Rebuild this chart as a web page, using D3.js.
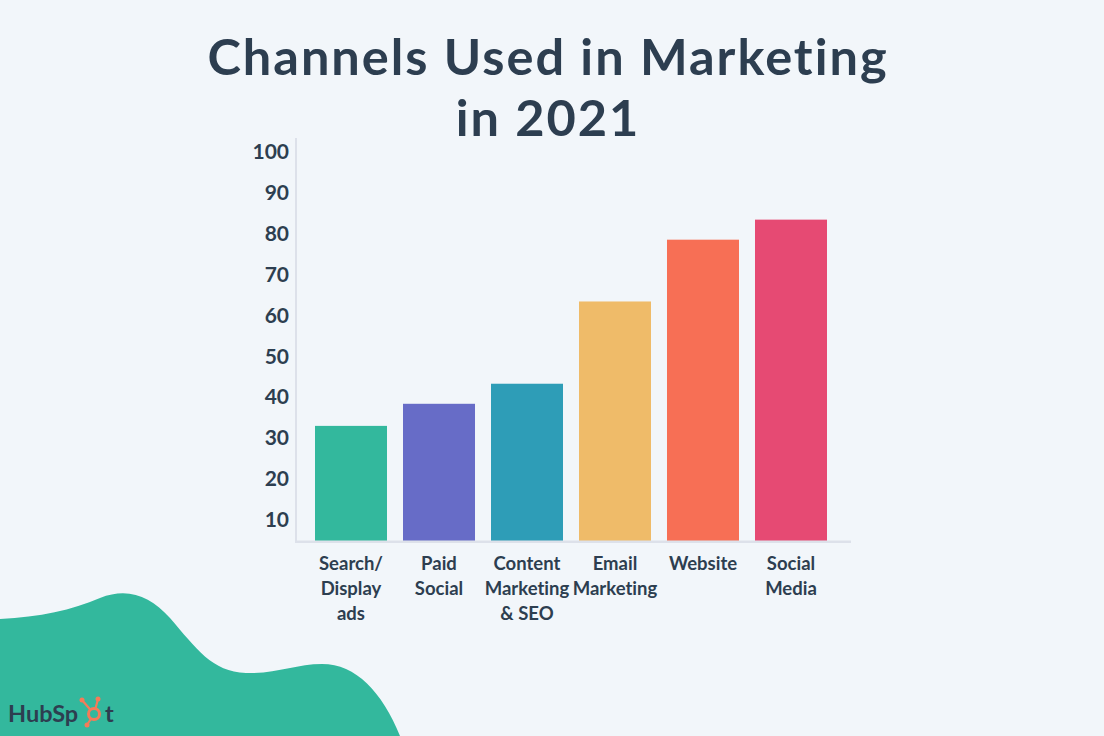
<!DOCTYPE html>
<html>
<head>
<meta charset="utf-8">
<script src="https://cdn.jsdelivr.net/npm/d3@7"></script>
<style>
  body { margin: 0; background: #f2f6fa; }
  svg { display: block; font-family: "Lato", "Open Sans", sans-serif; font-variant-ligatures: none; }
</style>
</head>
<body>
<div id="chart"></div>
<script>
const w = 1104;
const h = 736;
const ink = "#2d3e50";

// data
let categories = [
  ["Search/", "Display", "ads"],
  ["Paid", "Social"],
  ["Content", "Marketing", "& SEO"],
  ["Email", "Marketing"],
  ["Website"],
  ["Social", "Media"]
];
let values = [33, 38.4, 43.3, 63.4, 78.5, 83.4];
let colors = ["#33b89d", "#676cc7", "#2e9db7", "#efbb69", "#f76f55", "#e64a73"];
let yTicks = [10, 20, 30, 40, 50, 60, 70, 80, 90, 100];
let titleLines = ["Channels Used in Marketing", "in 2021"];

const svg = d3
  .select("#chart")
  .append("svg")
  .attr("width", w)
  .attr("height", h);

svg.append("rect").attr("width", w).attr("height", h).attr("fill", "#f2f6fa");

// green blob bottom left
svg
  .append("path")
  .attr("d", "M0,736 L0,619 C40,617 72,610 100,598 C128,587 150,596 170,618 C196,648 212,672 246,673 C276,674 296,664 322,664 C356,664 382,692 400,736 Z")
  .attr("fill", "#33b89d");

// title
svg
  .selectAll(".title")
  .data(titleLines)
  .enter()
  .append("text")
  .attr("class", "title")
  .attr("x", 548)
  .attr("y", (d, i) => 75 + i * 61)
  .attr("text-anchor", "middle")
  .attr("fill", ink)
  .style("font-size", "50.5px")
  .style("letter-spacing", "2px")
  .style("font-weight", 700)
  .text(d => d);

const x = d3
  .scaleBand()
  .domain(d3.range(values.length))
  .range([296, 846])
  .paddingInner(16 / 88)
  .paddingOuter(0.216);

const y = d3.scaleLinear().domain([4.7, 100]).range([541.7, 151.7]);

// bars
svg
  .selectAll(".bar")
  .data(values)
  .enter()
  .append("rect")
  .attr("class", "bar")
  .attr("x", (d, i) => x(i))
  .attr("y", d => y(d))
  .attr("width", x.bandwidth())
  .attr("height", d => y(4.7) - y(d))
  .attr("fill", (d, i) => colors[i]);

// axes lines
svg
  .append("line")
  .attr("x1", 296).attr("x2", 296)
  .attr("y1", 138).attr("y2", y(4.7))
  .attr("stroke", "#dde1ea").attr("stroke-width", 2);
svg
  .append("line")
  .attr("x1", 295).attr("x2", 851)
  .attr("y1", y(4.7)).attr("y2", y(4.7))
  .attr("stroke", "#dde1ea").attr("stroke-width", 2.5);

// y axis labels
const yAxis = svg
  .append("g")
  .attr("transform", "translate(296,0)")
  .call(d3.axisLeft(y).tickValues(yTicks).tickSize(0).tickPadding(7));
yAxis.select(".domain").remove();
yAxis
  .selectAll("text")
  .attr("fill", ink)
  .style("font-family", "Lato, sans-serif")
  .style("font-size", "21px")
  .style("font-weight", 700);

// x labels (multi-line)
const xl = svg
  .selectAll(".xlab")
  .data(categories)
  .enter()
  .append("text")
  .attr("class", "xlab")
  .attr("text-anchor", "middle")
  .attr("fill", ink)
  .style("font-size", "18.5px")
  .style("font-weight", 700);
xl.selectAll("tspan")
  .data((d, i) => d.map(t => ({ t: t, i: i })))
  .enter()
  .append("tspan")
  .attr("x", d => x(d.i) + x.bandwidth() / 2)
  .attr("y", (d, j) => 570 + j * 25)
  .text(d => d.t);

// HubSpot logo
const logo = svg.append("g").attr("transform", "translate(8,722)");
logo
  .append("text")
  .attr("x", 0)
  .attr("y", 0)
  .attr("fill", ink)
  .style("font-size", "23.5px")
  .style("font-weight", 700)
  .text("HubSp");
logo
  .append("text")
  .attr("x", 97)
  .attr("y", 0)
  .attr("fill", ink)
  .style("font-size", "23.5px")
  .style("font-weight", 700)
  .text("t");
const sp = logo.append("g").attr("transform", "translate(86,-8)").attr("stroke", "#f57b58").attr("fill", "#f57b58");
[[4, -15], [-12, -14], [-7, 11]].forEach(p => {
  sp.append("line").attr("x1", 0).attr("y1", 0).attr("x2", p[0]).attr("y2", p[1]).attr("stroke-width", 2.2);
  sp.append("circle").attr("cx", p[0]).attr("cy", p[1]).attr("r", 2.5).attr("stroke", "none");
});
sp.append("circle").attr("r", 5.5).attr("fill", "#33b89d").attr("stroke-width", 3);
</script>
</body>
</html>
